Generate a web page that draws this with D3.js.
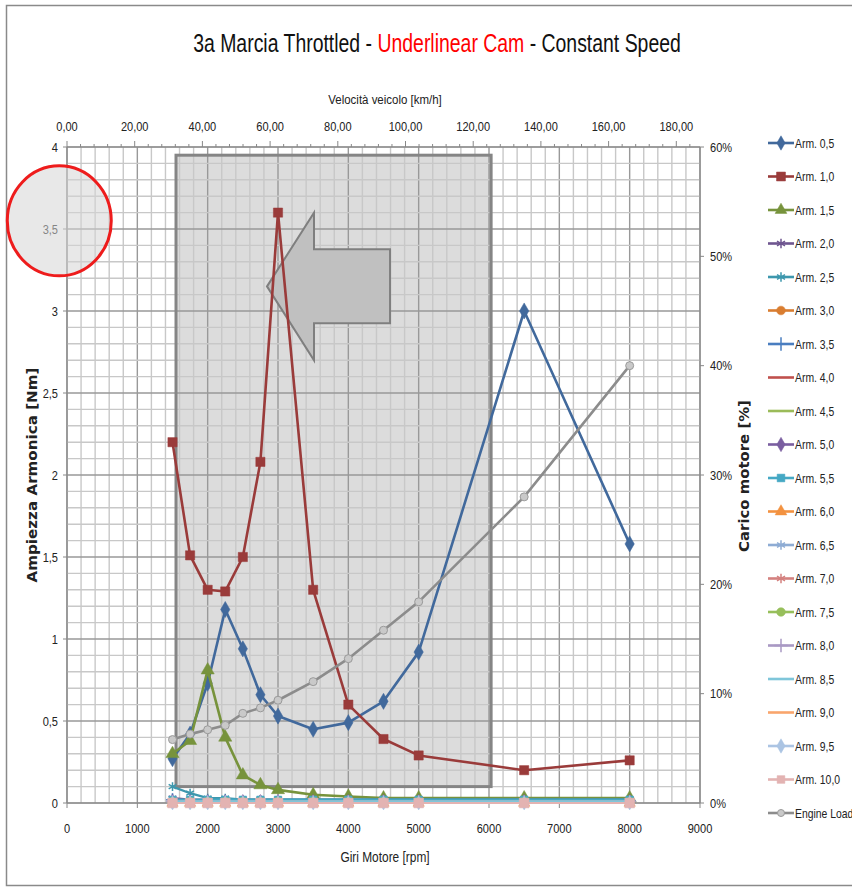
<!DOCTYPE html>
<html><head><meta charset="utf-8">
<script src="https://cdn.jsdelivr.net/npm/d3@7/dist/d3.min.js"></script>
<style>
body{margin:0;background:#fff;}
svg{display:block;}
text{font-family:"Liberation Sans",Arial,sans-serif;fill:#222;}
</style></head>
<body>
<svg id="chart" width="852" height="890"></svg>
<script>
// ---- data ----
const rpm = [1500,1750,2000,2250,2500,2750,3000,3500,4000,4500,5000,6500,8000];
const arm05  = [0.27,0.42,0.73,1.18,0.94,0.66,0.53,0.45,0.49,0.62,0.92,3.00,1.58];
const arm10  = [2.20,1.51,1.30,1.29,1.50,2.08,3.60,1.30,0.60,0.39,0.29,0.20,0.26];
const arm15  = [0.30,0.38,0.81,0.40,0.17,0.11,0.08,0.05,0.04,0.03,0.03,0.03,0.03];
const arm20  = [0.03,0.02,0.02,0.02,0.02,0.02,0.02,0.02,0.02,0.02,0.02,0.02,0.02];
const arm25  = [0.10,0.06,0.03,0.03,0.02,0.02,0.02,0.02,0.02,0.02,0.02,0.02,0.02];
const arm30  = [0.01,0.01,0.01,0.01,0.01,0.01,0.01,0.01,0.01,0.01,0.01,0.01,0.01];
const arm35  = [0.02,0.01,0.01,0.01,0.01,0.01,0.01,0.01,0.01,0.01,0.01,0.01,0.01];
const arm40  = [0.01,0.01,0.01,0.01,0.01,0.01,0.01,0.01,0.01,0.01,0.01,0.01,0.01];
const arm45  = [0.01,0.01,0.01,0.01,0.01,0.01,0.01,0.01,0.01,0.01,0.01,0.01,0.01];
const arm50  = [0.01,0.01,0.01,0.01,0.01,0.01,0.01,0.01,0.01,0.01,0.01,0.01,0.01];
const arm55  = [0.02,0.02,0.02,0.02,0.02,0.02,0.02,0.02,0.02,0.02,0.02,0.02,0.02];
const arm60  = [0.00,0.00,0.00,0.00,0.00,0.00,0.00,0.00,0.00,0.00,0.00,0.00,0.00];
const arm65  = [0.01,0.01,0.01,0.01,0.01,0.01,0.01,0.01,0.01,0.01,0.01,0.01,0.01];
const arm70  = [0.01,0.01,0.01,0.01,0.01,0.01,0.01,0.01,0.01,0.01,0.01,0.01,0.01];
const arm75  = [0.01,0.01,0.01,0.01,0.01,0.01,0.01,0.01,0.01,0.01,0.01,0.01,0.01];
const arm80  = [0.01,0.01,0.01,0.01,0.01,0.01,0.01,0.01,0.01,0.01,0.01,0.01,0.01];
const arm85  = [0.01,0.01,0.01,0.01,0.01,0.01,0.01,0.01,0.01,0.01,0.01,0.01,0.01];
const arm90  = [0.00,0.00,0.00,0.00,0.00,0.00,0.00,0.00,0.00,0.00,0.00,0.00,0.00];
const arm95  = [0.00,0.00,0.00,0.00,0.00,0.00,0.00,0.00,0.00,0.00,0.00,0.00,0.00];
const arm100 = [0.00,0.00,0.00,0.00,0.00,0.00,0.00,0.00,0.00,0.00,0.00,0.00,0.00];
const engineLoad = [5.8,6.3,6.7,7.1,8.2,8.7,9.4,11.1,13.2,15.8,18.4,28.0,40.0]; // %

const seriesNames = ["Arm. 0,5","Arm. 1,0","Arm. 1,5","Arm. 2,0","Arm. 2,5","Arm. 3,0","Arm. 3,5","Arm. 4,0","Arm. 4,5","Arm. 5,0",
  "Arm. 5,5","Arm. 6,0","Arm. 6,5","Arm. 7,0","Arm. 7,5","Arm. 8,0","Arm. 8,5","Arm. 9,0","Arm. 9,5","Arm. 10,0"];
const seriesValues = [arm05,arm10,arm15,arm20,arm25,arm30,arm35,arm40,arm45,arm50,arm55,arm60,arm65,arm70,arm75,arm80,arm85,arm90,arm95,arm100];
const seriesColors = ["#41699c","#9a3b3a","#77933c","#6f5690","#3d97ad","#d97d30","#4a7ec0","#c0504d","#9bbb59","#7a5ea0",
  "#45a8c4","#f39240","#8eacd4","#d4817f","#97bf5b","#a999c4","#7fc6da","#f9a56c","#abc4e3","#e3b3b2"];
const seriesMarkers = ["diamond","square","triangle","asterisk","asterisk","circle","plus","none","none","diamond",
  "square","triangle","asterisk","asterisk","circle","plus","none","none","diamond","square"];

const xTicks = [0,1000,2000,3000,4000,5000,6000,7000,8000,9000];
const yTicks = [0,0.5,1,1.5,2,2.5,3,3.5,4];
const y2Ticks = [0,10,20,30,40,50,60];
const topTicks = [0,20,40,60,80,100,120,140,160,180];

// ---- layout ----
const svg = d3.select("#chart");
const L = 67, R = 700, T = 147, B = 803;
const x = d3.scaleLinear().domain([0,9000]).range([L,R]);
const y = d3.scaleLinear().domain([0,4]).range([B,T]);
const y2 = d3.scaleLinear().domain([0,60]).range([B,T]);
const xTop = d3.scaleLinear().domain([0,187]).range([L,R]);
const comma = s => String(s).replace(".",",");

// condensed text helper (mimics a narrow font)
function txt(parent, tx, ty, str, size, anchor, sx, extra){
  const t = parent.append("text").attr("transform",`translate(${tx},${ty}) ${extra||""} scale(${sx},1)`)
    .attr("text-anchor",anchor||"start").style("font-size",size+"px").text(str);
  return t;
}
function fitText(t, tx, ty, target, extra){
  const len = t.node().getComputedTextLength();
  t.attr("transform",`translate(${tx},${ty}) ${extra||""} scale(${target/len},1)`);
}

// outer frame
svg.append("rect").attr("x",6.5).attr("y",5.5).attr("width",870).attr("height",880)
  .attr("fill","#fff").attr("stroke","#8a8a8a").attr("stroke-width",1.5);

// title
const title = svg.append("text").attr("text-anchor","middle").style("font-size","25px").style("fill","#111");
title.append("tspan").text("3a Marcia Throttled - ");
title.append("tspan").style("fill","#ff0000").text("Underlinear Cam");
title.append("tspan").text(" - Constant Speed");
fitText(title, 437, 52, 488);

// gray highlight box (behind grid)
const boxX0 = 1550, boxX1 = 6030, boxY0 = 0.1, boxY1 = 3.95;
svg.append("rect").attr("x",x(boxX0)).attr("y",y(boxY1)).attr("width",x(boxX1)-x(boxX0)).attr("height",y(boxY0)-y(boxY1))
  .attr("fill","#dcdcdc");

// grid
const g = svg.append("g");
d3.range(0,9001,200).forEach(v=>{
  const major = v%1000===0;
  g.append("line").attr("x1",x(v)).attr("x2",x(v)).attr("y1",T).attr("y2",B)
    .attr("stroke",major?"#999":"#c8c8c8").attr("stroke-width",1.4);
});
d3.range(0,41,1).forEach(i=>{
  const v = i/10, major = i%5===0;
  g.append("line").attr("x1",L).attr("x2",R).attr("y1",y(v)).attr("y2",y(v))
    .attr("stroke",major?"#999":"#c8c8c8").attr("stroke-width",1.4);
});

// box border
svg.append("rect").attr("x",x(boxX0)).attr("y",y(boxY1)).attr("width",x(boxX1)-x(boxX0)).attr("height",y(boxY0)-y(boxY1))
  .attr("fill","none").attr("stroke","#858585").attr("stroke-width",3);

// arrow
const arrowPts = [[2844,3.15],[3512,3.60],[3512,3.377],[4593,3.377],[4593,2.925],[3512,2.925],[3512,2.70]];
svg.append("path").attr("d", d3.line()(arrowPts.map(p=>[x(p[0]),y(p[1])]))+"Z")
  .attr("fill","#c0c0c0").attr("stroke","#7f7f7f").attr("stroke-width",2);

// axes
const SX = 0.85;
// left
svg.append("line").attr("x1",L).attr("x2",L).attr("y1",T).attr("y2",B).attr("stroke","#888").attr("stroke-width",1.2);
yTicks.forEach(v=>{
  svg.append("line").attr("x1",L-4).attr("x2",L).attr("y1",y(v)).attr("y2",y(v)).attr("stroke","#888");
  txt(svg, L-9, y(v)+4.5, comma(v), 13, "end", SX);
});
// right
svg.append("line").attr("x1",R).attr("x2",R).attr("y1",T).attr("y2",B).attr("stroke","#888").attr("stroke-width",1.2);
y2Ticks.forEach(v=>{
  svg.append("line").attr("x1",R).attr("x2",R+4).attr("y1",y2(v)).attr("y2",y2(v)).attr("stroke","#888");
  txt(svg, R+10, y2(v)+4.5, v+"%", 13, "start", SX);
});
// bottom
svg.append("line").attr("x1",L).attr("x2",R).attr("y1",B).attr("y2",B).attr("stroke","#888").attr("stroke-width",1.2);
xTicks.forEach(v=>{
  svg.append("line").attr("x1",x(v)).attr("x2",x(v)).attr("y1",B).attr("y2",B+5).attr("stroke","#888");
  txt(svg, x(v), B+30, String(v), 13, "middle", SX);
});
// top
svg.append("line").attr("x1",L).attr("x2",R).attr("y1",T).attr("y2",T).attr("stroke","#888").attr("stroke-width",1.2);
d3.range(0,187,4).forEach(v=>{
  const major = v%20===0;
  svg.append("line").attr("x1",xTop(v)).attr("x2",xTop(v)).attr("y1",T).attr("y2",T-(major?6:3)).attr("stroke","#888");
});
topTicks.forEach(v=>{
  txt(svg, xTop(v), T-16, comma(v.toFixed(2)), 13, "middle", SX);
});

// axis titles
txt(svg, 385, 104, "Velocità veicolo [km/h]", 13.5, "middle", SX);
txt(svg, 385, 862, "Giri Motore [rpm]", 14, "middle", SX);
const lt = svg.append("text").attr("text-anchor","middle")
  .style("font-family","'DejaVu Sans',sans-serif").style("font-weight","bold").style("font-size","14px").text("Ampiezza Armonica [Nm]");
fitText(lt, 37, 475, 215, "rotate(-90)");
const rt = svg.append("text").attr("text-anchor","middle")
  .style("font-family","'DejaVu Sans',sans-serif").style("font-weight","bold").style("font-size","14px").text("Carico motore [%]");
fitText(rt, 749, 476, 152, "rotate(-90)");

// series
const symType = {diamond:d3.symbolDiamond,square:d3.symbolSquare,triangle:d3.symbolTriangle,asterisk:d3.symbolAsterisk,
  circle:d3.symbolCircle,plus:d3.symbolPlus};
const lineGen = d3.line();
function marker(sel,type,color,size){
  if(type==="none") return;
  const sym = d3.symbol().type(symType[type]).size(size);
  const stroke = (type==="asterisk"||type==="plus");
  sel.attr("d",sym()).attr("fill",stroke?"none":color).attr("stroke",color).attr("stroke-width",stroke?1.5:0.5);
}
const dataG = svg.append("g");
seriesValues.forEach((vals,i)=>{
  const pts = rpm.map((r,k)=>[x(r),y(vals[k])]);
  const big = i<3;
  dataG.append("path").attr("d",lineGen(pts)).attr("fill","none").attr("stroke",seriesColors[i])
    .attr("stroke-width",big?2.6:2.2).attr("stroke-linejoin","round");
  const size = i===1?85:(i===19?95:(big?75:55));
  pts.forEach(p=>{
    marker(dataG.append("path").attr("transform",`translate(${p[0]},${p[1]})`),seriesMarkers[i],seriesColors[i],size);
  });
});
// engine load (secondary axis)
const elPts = rpm.map((r,k)=>[x(r),y2(engineLoad[k])]);
dataG.append("path").attr("d",lineGen(elPts)).attr("fill","none").attr("stroke","#8c8c8c").attr("stroke-width",2.6);
elPts.forEach(p=>{
  dataG.append("circle").attr("cx",p[0]).attr("cy",p[1]).attr("r",4).attr("fill","#c9c9c9").attr("stroke","#9a9a9a").attr("stroke-width",1);
});

// red circle annotation (over left axis label 3,5)
svg.append("ellipse").attr("cx",x(-110)).attr("cy",y(3.55)).attr("rx",52).attr("ry",55)
  .attr("fill","#d6d6d6").attr("fill-opacity",0.55).attr("stroke","#ee1c1c").attr("stroke-width",3);

// legend
const legNames = seriesNames.concat(["Engine Load"]);
const legColors = seriesColors.concat(["#8c8c8c"]);
const legMarkers = seriesMarkers.concat(["elcircle"]);
legNames.forEach((n,i)=>{
  const ly = 143 + i*33.5;
  const gg = svg.append("g").attr("transform",`translate(0,${ly})`);
  gg.append("line").attr("x1",768).attr("x2",794).attr("y1",0).attr("y2",0).attr("stroke",legColors[i]).attr("stroke-width",2.6);
  if(legMarkers[i]==="elcircle"){
    gg.append("circle").attr("cx",781).attr("cy",0).attr("r",3.5).attr("fill","#c9c9c9").attr("stroke","#9a9a9a");
  } else {
    marker(gg.append("path").attr("transform","translate(781,0)"),legMarkers[i],legColors[i],i===1?80:60);
  }
  txt(gg, 795, 4.5, n, 13, "start", 0.8);
});
</script>
</body></html>
